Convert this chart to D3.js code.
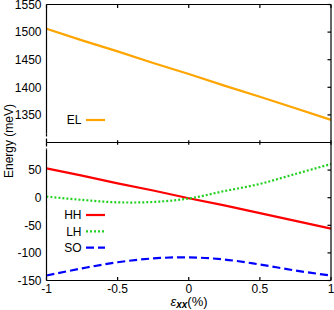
<!DOCTYPE html>
<html>
<head>
<meta charset="utf-8">
<script src="https://cdn.jsdelivr.net/npm/d3@7"></script>
<style>
  body { margin: 0; background: #fff; }
  text { font-family: "Liberation Sans", Arial, Helvetica, sans-serif; }
</style>
</head>
<body>
<div id="chart"></div>
<script>
// strain values (%) and band energies (meV)
const strain = [-1, -0.75, -0.5, -0.25, 0, 0.25, 0.5, 0.75, 1];
const EL = [1506, 1485, 1465, 1444, 1424, 1403, 1383, 1362, 1341];
const HH = [53, 40, 26, 13, -1, -14, -28, -42, -56];
const LH = [2, -4, -8.4, -7.7, -1.5, 12, 25, 43, 61];
const SO = [-141, -128, -117, -110, -108, -112, -121, -132, -141];
const xTicks = [-1, -0.5, 0, 0.5, 1];
const topTicks = [1350, 1400, 1450, 1500, 1550];
const botTicks = [-150, -100, -50, 0, 50];

const W = 334, H = 310;
const L = 46.5, R = 331, T = 4.5, MID = 142.5, B = 280.5;
const TICK = 3.5;

const svg = d3.select("#chart").append("svg")
  .attr("width", W).attr("height", H);

const x = d3.scaleLinear().domain([-1, 1]).range([L, R]);
const yTop = d3.scaleLinear().domain([1300, 1550]).range([MID, T]);
const yBot = d3.scaleLinear().domain([-150, 100]).range([B, MID]);

const series = [
  { name: "EL", vals: EL, y: yTop, color: "#ffa500", dash: null },
  { name: "HH", vals: HH, y: yBot, color: "#ff0000", dash: null },
  { name: "LH", vals: LH, y: yBot, color: "#22d022", dash: "2,2" },
  { name: "SO", vals: SO, y: yBot, color: "#0000ff", dash: "8,4" }
];

// curves
series.forEach(s => {
  const line = d3.line()
    .x((d, i) => x(strain[i]))
    .y(d => s.y(d))
    .curve(s.name === "EL" || s.name === "HH" ? d3.curveLinear : d3.curveCatmullRom);
  svg.append("path")
    .datum(s.vals)
    .attr("d", line)
    .attr("fill", "none")
    .attr("stroke", s.color)
    .attr("stroke-width", 2.2)
    .attr("stroke-dasharray", s.dash);
});

// frame
const ax = svg.append("g").attr("stroke", "#000").attr("stroke-width", 1.2).attr("fill", "none");
ax.append("line").attr("x1", L).attr("x2", R).attr("y1", T).attr("y2", T);
ax.append("line").attr("x1", L).attr("x2", R).attr("y1", MID).attr("y2", MID);
ax.append("line").attr("x1", L).attr("x2", R).attr("y1", B).attr("y2", B);
ax.append("line").attr("x1", R).attr("x2", R).attr("y1", T).attr("y2", B);
// left axis with break
ax.append("line").attr("x1", L).attr("x2", L).attr("y1", T).attr("y2", MID - 9);
ax.append("line").attr("x1", L).attr("x2", L).attr("y1", MID - 9).attr("y2", MID + 7)
  .attr("stroke-dasharray", "3,2");
ax.append("line").attr("x1", L).attr("x2", L).attr("y1", MID + 7).attr("y2", B);

// x ticks (top, middle, bottom)
xTicks.forEach(v => {
  const xv = x(v);
  ax.append("line").attr("x1", xv).attr("x2", xv).attr("y1", T).attr("y2", T + TICK);
  ax.append("line").attr("x1", xv).attr("x2", xv).attr("y1", MID - TICK / 2 - 0.5).attr("y2", MID + TICK / 2 + 0.5);
  ax.append("line").attr("x1", xv).attr("x2", xv).attr("y1", B).attr("y2", B - TICK);
});
// right ticks
topTicks.forEach(v => {
  ax.append("line").attr("x1", R).attr("x2", R - TICK).attr("y1", yTop(v)).attr("y2", yTop(v));
});
botTicks.forEach(v => {
  ax.append("line").attr("x1", R).attr("x2", R - TICK).attr("y1", yBot(v)).attr("y2", yBot(v));
});

// tick labels
const lab = svg.append("g").style("font-size", "12px").attr("fill", "#000");
topTicks.forEach(v => {
  lab.append("text").attr("x", 41.5).attr("y", yTop(v)).attr("dy", "0.36em")
    .attr("text-anchor", "end").text(v);
});
botTicks.forEach(v => {
  lab.append("text").attr("x", 41.5).attr("y", yBot(v)).attr("dy", "0.36em")
    .attr("text-anchor", "end").text(v);
});
xTicks.forEach(v => {
  lab.append("text").attr("x", x(v)).attr("y", 293)
    .attr("text-anchor", "middle").text(v);
});

// axis titles
svg.append("text")
  .attr("transform", `translate(12.5,141) rotate(-90)`)
  .attr("text-anchor", "middle")
  .style("font-size", "12px")
  .text("Energy (meV)");

const xl = svg.append("text")
  .attr("x", 189).attr("y", 305.5)
  .attr("text-anchor", "middle")
  .style("font-size", "13px");
xl.append("tspan").style("font-style", "italic").text("ε");
xl.append("tspan").style("font-style", "italic").style("font-weight", "bold")
  .style("font-size", "10px").attr("dy", 2).text("xx");
xl.append("tspan").attr("dy", -2).text("(%)");

// legends
const legRows = [
  { s: series[0], y: 120 },
  { s: series[1], y: 215 },
  { s: series[2], y: 231.3 },
  { s: series[3], y: 247.6 }
];
legRows.forEach(r => {
  svg.append("text").attr("x", 81.5).attr("y", r.y).attr("dy", "0.36em")
    .attr("text-anchor", "end").style("font-size", "12px").text(r.s.name);
  svg.append("line").attr("x1", 86).attr("x2", 105).attr("y1", r.y).attr("y2", r.y)
    .attr("stroke", r.s.color).attr("stroke-width", 2.2)
    .attr("stroke-dasharray", r.s.dash);
});
</script>
</body>
</html>
